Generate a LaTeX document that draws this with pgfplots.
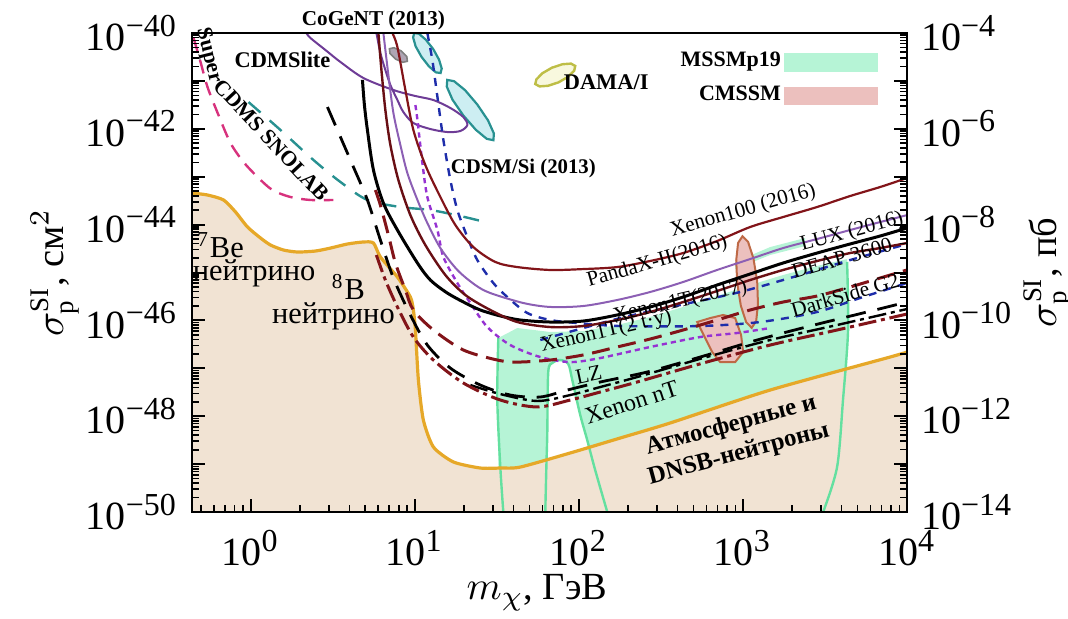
\documentclass[border=0pt]{standalone}
\usepackage{fontspec}
\setmainfont{Liberation Serif}
\usepackage{pgfplots}
\pgfplotsset{compat=1.18}
\definecolor{beige}{RGB}{241,227,211}
\definecolor{floor}{RGB}{230,168,40}
\definecolor{mint}{RGB}{182,244,214}
\definecolor{mintline}{RGB}{100,224,160}
\definecolor{pinkf}{RGB}{236,192,190}
\definecolor{pinkl}{RGB}{190,105,70}
\definecolor{darkred}{RGB}{130,20,25}
\definecolor{xred}{RGB}{105,15,20}
\definecolor{pandax}{RGB}{140,95,180}
\definecolor{cdmsl}{RGB}{110,60,150}
\definecolor{teal2}{RGB}{40,145,145}
\definecolor{tealf}{RGB}{205,238,242}
\definecolor{magen}{RGB}{215,50,125}
\definecolor{blue2}{RGB}{30,45,170}
\definecolor{violet2}{RGB}{150,50,210}
\definecolor{dama}{RGB}{190,190,70}
\definecolor{damaf}{RGB}{248,248,222}
\definecolor{grayf}{RGB}{175,165,180}
\newcommand{\tp}[1]{10\textsuperscript{\fontsize{8}{8}\selectfont #1}}
\tikzset{lab/.style={font=\fontsize{5.3}{6}\selectfont, inner sep=0pt},
         blab/.style={font=\bfseries\fontsize{5.2}{6}\selectfont, inner sep=0pt}}
\pgfplotsset{
  ticksty/.style={
    axis on top,
    tick align=inside,
    major tick length=3.2pt, minor tick length=1.8pt,
    every tick/.append style={black, line width=0.5pt},
    every minor tick/.append style={black, line width=0.4pt},
  }
}
\begin{document}
\begin{tikzpicture}
\useasboundingbox (-48pt,-26.75pt) rectangle (219pt,128pt);
\begin{axis}[
  scale only axis, width=178.75pt, height=119.75pt,
  xmode=log, ymode=log,
  xmin=0.44, xmax=1e4, ymin=1e-50, ymax=1e-40,
  clip mode=individual,
  axis line style={line width=0.7pt},
  ticksty, xtick pos=left, ytick pos=left,
  xtick={1,10,100,1000,10000},
  minor xtick={0.5,0.6,0.7,0.8,0.9,2,3,4,5,6,7,8,9,20,30,40,50,60,70,80,90,200,300,400,500,600,700,800,900,2000,3000,4000,5000,6000,7000,8000,9000},
  xticklabels={\tp{0},\tp{1},\tp{2},\tp{3},\tp{4}},
  ytick={1e-50,1e-49,1e-48,1e-47,1e-46,1e-45,1e-44,1e-43,1e-42,1e-41,1e-40},
  minor ytick={2e-50,3e-50,4e-50,5e-50,6e-50,7e-50,8e-50,9e-50,
    2e-49,3e-49,4e-49,5e-49,6e-49,7e-49,8e-49,9e-49,
    2e-48,3e-48,4e-48,5e-48,6e-48,7e-48,8e-48,9e-48,
    2e-47,3e-47,4e-47,5e-47,6e-47,7e-47,8e-47,9e-47,
    2e-46,3e-46,4e-46,5e-46,6e-46,7e-46,8e-46,9e-46,
    2e-45,3e-45,4e-45,5e-45,6e-45,7e-45,8e-45,9e-45,
    2e-44,3e-44,4e-44,5e-44,6e-44,7e-44,8e-44,9e-44,
    2e-43,3e-43,4e-43,5e-43,6e-43,7e-43,8e-43,9e-43,
    2e-42,3e-42,4e-42,5e-42,6e-42,7e-42,8e-42,9e-42,
    2e-41,3e-41,4e-41,5e-41,6e-41,7e-41,8e-41,9e-41},
  yticklabels={\tp{−50},,\tp{−48},,\tp{−46},,\tp{−44},,\tp{−42},,\tp{−40}},
  ticklabel style={font=\fontsize{10}{12}\selectfont},
  xticklabel shift=1pt,
  xlabel={$m_\chi$, ГэВ},
  ylabel={$\sigma_{\mathrm p}^{\mathrm{SI}}$, см$^2$},
  every axis x label/.style={at={(axis description cs:0.4825,-0.169)}, anchor=center, font=\fontsize{9.6}{11}\selectfont},
  every axis y label/.style={at={(axis description cs:-0.192,0.5)}, rotate=90, anchor=center, font=\fontsize{9.6}{11}\selectfont},
  legend style={at={(0.977,0.985)}, anchor=north east, draw=none, fill=none, font=\bfseries\fontsize{5.5}{6.5}\selectfont, row sep=1.6pt, nodes={inner sep=0.8pt}},
  legend plot pos=right, legend cell align=right,
]
% neutrino floor fill
\addplot[fill=beige, draw=none, forget plot] coordinates {
(0.44,4.57e-44) (0.547,4.15e-44) (0.685,3.27e-44) (0.811,1.83e-44) (0.959,8.91e-45) (1.151,5.25e-45) (1.324,3.75e-45) (1.588,2.95e-45) (1.932,2.68e-45) (2.488,2.81e-45) (3.070,3.24e-45) (3.897,3.94e-45) (4.875,4.34e-45) (5.610,4.13e-45) (6.185,2.11e-45) (7.853,8.05e-46) (9.420,3.08e-46) (9.825,1.65e-46) (10.11,6.31e-47) (10.54,5.70e-48) (11.30,8.33e-49) (13.01,2.28e-49) (17.22,1.11e-49) (25.13,8.29e-50) (33.27,8.29e-50) (44.07,8.69e-50) (88.78,1.71e-49) (179.0,3.51e-49) (360.6,7.22e-49) (1466,3.52e-48) (7889,1.72e-47) (10000,2.19e-47) (10000,1e-50) (0.44,1e-50)} -- cycle;
% MSSMp19 region
\addplot[fill=mint, draw=none, forget plot] coordinates {
(32.35,4.30e-47) (42.23,6.94e-47) (67.12,5.73e-47) (106.5,6.01e-47) (171.5,8.02e-47) (272.3,1.18e-46) (432.5,1.91e-46) (696.6,3.23e-46) (1107,5.48e-46) (1758,8.87e-46) (2831,1.37e-45) (4315,1.91e-45) (4315,9.66e-48) (1466,3.52e-48) (360.6,7.22e-49) (179.0,3.51e-49) (88.78,1.71e-49) (44.07,8.69e-50) (32.35,8.29e-50)} -- cycle;
\addplot[fill=mint, draw=none, forget plot] coordinates {
(897.5,1.66e-45) (1466,3.40e-45) (2393,5.25e-45) (2393,3.57e-45) (1466,2.32e-45) (897.5,1.18e-45)} -- cycle;
\addplot[fill=white, draw=none, forget plot] coordinates {
(65.18,8.37e-48) (69.0,1.29e-47) (77.11,1.49e-47) (86.3,1.23e-47) (91.3,5.70e-48) (102.1,1.06e-48) (112.6,3.18e-49) (117.5,2.17e-49) (88.78,1.71e-49) (65.18,1.33e-49)} -- cycle;
% MSSMp19 outlines
\addplot[mintline, line width=0.6pt, smooth, forget plot] coordinates {(32.35,4.30e-47) (31.90,2.18e-48) (33.27,8.69e-50) (34.70,1e-50)};
\addplot[mintline, line width=0.6pt, smooth, tension=0.5, forget plot] coordinates {(62.52,1e-50) (63.4,7.53e-50) (64.3,4.46e-49) (65.18,8.37e-48) (69.0,1.29e-47) (77.11,1.49e-47) (86.3,1.23e-47) (91.3,5.70e-48) (102.1,1.06e-48) (112.6,3.18e-49) (125.9,7.53e-50) (149.2,1e-50)};
\addplot[mintline, line width=0.6pt, smooth, forget plot] coordinates {(4315,1.66e-45) (4375,6.31e-47) (4074,2.18e-48) (3750,8.69e-50) (3083,1e-50)};
% CMSSM regions
\addplot[fill=pinkf, draw=pinkl, line width=0.5pt, forget plot] coordinates {
(1132,7.00e-47) (1047,9.22e-47) (972,2.02e-46) (923,6.04e-46) (911,1.82e-45) (935,4.15e-45) (995,5.73e-45) (1076,4.36e-45) (1159,1.99e-45) (1222,6.65e-46) (1236,2.20e-46) (1205,9.66e-47)} -- cycle;
\addplot[fill=pinkf, draw=pinkl, line width=0.5pt, forget plot] coordinates {
(526.5,9.26e-47) (632.4,1.12e-46) (758.6,1.30e-46) (897.5,1.12e-46) (975,4.96e-47) (1004,2.19e-47) (897.5,1.35e-47) (727.8,1.35e-47) (650.2,2.19e-47) (589.0,4.30e-47)} -- cycle;
% neutrino floor line
\addplot[floor, line width=0.8pt, smooth, tension=0.4, forget plot] coordinates {
(0.44,4.57e-44) (0.547,4.15e-44) (0.685,3.27e-44) (0.811,1.83e-44) (0.959,8.91e-45) (1.151,5.25e-45) (1.324,3.75e-45) (1.588,2.95e-45) (1.932,2.68e-45) (2.488,2.81e-45) (3.070,3.24e-45) (3.897,3.94e-45) (4.875,4.34e-45) (5.610,4.13e-45) (6.185,2.11e-45) (7.853,8.05e-46) (9.420,3.08e-46) (9.825,1.65e-46) (10.11,6.31e-47) (10.54,5.70e-48) (11.30,8.33e-49) (13.01,2.28e-49) (17.22,1.11e-49) (25.13,8.29e-50) (33.27,8.29e-50) (44.07,8.69e-50) (88.78,1.71e-49) (179.0,3.51e-49) (360.6,7.22e-49) (1466,3.52e-48) (7889,1.72e-47) (10000,2.19e-47)};
% upper-left contours
\addplot[fill=tealf, draw=teal2, line width=0.55pt, forget plot] coordinates {
(14.39,1.46e-41) (13.46,1.51e-41) (12.21,2.02e-41) (11.02,3.17e-41) (10.14,5.27e-41) (9.79,8.05e-41) (9.94,1e-40) (10.62,9.67e-41) (11.70,7.25e-41) (13.0,4.59e-41) (14.09,2.77e-41) (14.62,1.82e-41)} -- cycle;
\addplot[fill=tealf, draw=teal2, line width=0.55pt, forget plot] coordinates {
(30.2,5.78e-43) (27.5,6.18e-43) (23.6,9.53e-43) (19.8,1.90e-42) (17.0,4.07e-42) (15.7,7.60e-42) (15.8,1.05e-41) (17.4,9.86e-42) (20.3,6.40e-42) (24.1,3.21e-42) (28.0,1.50e-42) (30.4,8.02e-43)} -- cycle;
\addplot[fill=grayf, draw=gray, line width=0.4pt, forget plot] coordinates {
(9.03,2.57e-41) (8.47,2.45e-41) (7.66,2.85e-41) (7.08,3.73e-41) (7.02,4.70e-41) (7.48,4.93e-41) (8.29,4.23e-41) (8.96,3.23e-41)} -- cycle;
\addplot[fill=damaf, draw=dama, line width=0.6pt, forget plot] coordinates {
(95.2,2.05e-41) (93.8,1.63e-41) (86.1,1.22e-41) (75.4,9.35e-42) (65.0,7.91e-42) (57.7,7.68e-42) (54.3,8.61e-42) (55.2,1.08e-41) (60.1,1.45e-41) (68.7,1.89e-41) (79.6,2.23e-41) (89.7,2.30e-41)} -- cycle;
\addplot[cdmsl, line width=0.5pt, smooth, forget plot] coordinates {
(2.19,1e-40) (2.318,7.87e-41) (2.86,4.42e-41) (3.532,2.48e-41) (4.875,1.15e-41) (7.425,6.46e-42) (10.11,4.84e-42) (13.01,3.99e-42) (16.51,2.72e-42) (19.82,1.76e-42) (20.95,1.20e-42) (19.00,9.00e-43) (15.82,8.57e-43) (12.47,9.90e-43) (9.825,1.32e-42) (8.54,2.24e-42) (7.853,3.99e-42) (7.118,8.21e-42) (6.632,1.69e-41) (6.185,3.82e-41) (5.930,7.87e-41) (5.848,1e-40)};
\addplot[teal2, line width=0.6pt, dash pattern=on 4pt off 3pt, smooth, forget plot] coordinates {
(0.972,3.62e-42) (1.523,9.44e-43) (2.420,2.23e-43) (3.532,7.75e-44) (5.155,3.27e-44) (8.187,2.33e-44) (12.47,2.02e-44) (19.00,1.51e-44) (26.96,1.13e-44)};
\addplot[magen, line width=0.6pt, dash pattern=on 3.5pt off 2.2pt, smooth, forget plot] coordinates {
(0.450,7.87e-41) (0.496,2.48e-41) (0.547,7.46e-42) (0.638,1.94e-42) (0.755,5.06e-43) (0.906,2.03e-43) (1.104,9.86e-44) (1.361,5.27e-44) (1.753,3.77e-44) (2.318,3.27e-44) (3.200,3.27e-44)};
% limits
\addplot[blue2, line width=0.6pt, dash pattern=on 2pt off 1.8pt, smooth, forget plot] coordinates {
(11.95,1e-40) (12.82,2.73e-41) (13.77,4.61e-42) (14.97,5.84e-43) (16.51,8.53e-44) (18.21,2.02e-44) (20.95,5.51e-45) (24.09,1.82e-45) (30.16,6.04e-46) (36.71,3.08e-46) (48.55,1.43e-46) (67.12,1.02e-46) (97.94,8.83e-47) (179.0,7.64e-47) (549.5,7.64e-47) (1274,9.26e-47) (2831,1.50e-46) (5176,2.94e-46) (10000,6.04e-46)};
\addplot[blue2, line width=0.6pt, dash pattern=on 2pt off 1.8pt, smooth, forget plot] coordinates {
(58.31,3.90e-47) (179.0,1.12e-46) (415.0,2.10e-46) (961.6,3.92e-46) (2234,8.87e-46) (4498,1.82e-45) (10000,3.94e-45)};
\addplot[violet2, line width=0.6pt, dash pattern=on 1.3pt off 1pt, smooth, forget plot] coordinates {
(10.11,3.14e-42) (10.40,1.53e-42) (11.15,1.93e-43) (11.95,3.77e-44) (13.77,7.71e-45) (14.97,2.11e-45) (18.21,6.04e-46) (21.85,2.31e-46) (27.73,7.28e-47) (38.28,3.06e-47) (58.31,1.72e-47) (88.78,1.35e-47) (135.2,1.64e-47) (272.3,2.79e-47) (549.5,4.50e-47) (922.6,5.46e-47) (1466,6.94e-47)};
\addplot[darkred, line width=0.55pt, smooth, forget plot] coordinates {
(7.320,1e-40) (7.853,5.10e-41) (8.783,6.46e-42) (9.825,9.44e-43) (11.62,1.75e-43) (14.35,3.77e-44) (17.71,9.81e-45) (22.79,3.40e-45) (31.02,1.66e-45) (42.23,1.30e-45) (67.12,1.13e-45) (106.5,1.18e-45) (171.5,1.30e-45) (272.3,1.74e-45) (432.5,2.55e-45) (696.6,4.55e-45) (1107,8.91e-45) (1758,1.44e-44) (2831,2.33e-44) (4498,3.95e-44) (6855,6.09e-44) (10000,9.40e-44)};
\addplot[pandax, line width=0.5pt, smooth, forget plot] coordinates {
(6.451,1e-40) (6.919,1.33e-41) (7.425,2.14e-42) (8.187,4.59e-43) (9.033,1.19e-43) (10.40,3.27e-44) (11.95,1.08e-44) (14.35,3.24e-45) (18.21,1.13e-45) (23.42,5.48e-46) (28.92,3.73e-46) (45.95,2.31e-46) (67.12,1.91e-46) (106.5,2.00e-46) (171.5,2.67e-46) (272.3,3.92e-46) (432.5,6.34e-46) (696.6,1.13e-45) (1107,1.91e-45) (1758,3.24e-45) (2831,5.00e-45) (4498,7.71e-45) (6855,1.13e-44) (10000,1.58e-44)};
\addplot[black, line width=0.75pt, smooth, forget plot] coordinates {
(4.808,1.05e-41) (4.943,3.14e-42) (5.155,9.44e-43) (5.610,1.38e-43) (6.451,2.82e-44) (7.853,7.71e-45) (10.40,1.58e-45) (12.47,6.97e-46) (15.82,3.73e-46) (20.37,2.31e-46) (25.13,1.65e-46) (33.27,1.24e-46) (44.07,1.02e-46) (67.12,9.26e-47) (106.5,9.71e-47) (171.5,1.30e-46) (272.3,1.91e-46) (432.5,3.08e-46) (696.6,5.48e-46) (1107,9.31e-46) (1758,1.58e-45) (2831,2.55e-45) (4498,3.94e-45) (6855,5.78e-45) (10000,8.49e-45)};
\addplot[xred, line width=0.6pt, smooth, forget plot] coordinates {
(6.013,1e-40) (6.276,1.69e-41) (6.632,2.47e-42) (7.118,4.59e-43) (7.961,8.53e-44) (9.420,1.58e-44) (11.62,3.75e-45) (15.39,8.87e-46) (20.37,3.39e-46) (28.92,1.65e-46) (42.23,9.26e-47) (67.12,7.28e-47) (106.5,7.64e-47) (171.5,1.02e-46) (272.3,1.50e-46) (432.5,2.42e-46) (696.6,4.11e-46) (1107,6.97e-46) (1758,1.13e-45) (2831,1.74e-45) (4498,2.55e-45) (6855,3.24e-45) (10000,4.13e-45)};
\addplot[darkred, line width=0.75pt, dash pattern=on 4.5pt off 2.2pt, smooth, forget plot] coordinates {
(5.767,5.27e-44) (6.185,2.56e-44) (6.919,6.07e-45) (7.636,1.58e-45) (8.783,4.31e-46) (9.825,1.65e-46) (13.01,6.31e-47) (19.82,2.41e-47) (31.90,1.49e-47) (42.23,1.35e-47) (67.12,1.49e-47) (106.5,1.90e-47) (171.5,2.79e-47) (272.3,4.09e-47) (432.5,6.31e-47) (696.6,1.02e-46) (1107,1.65e-46) (1758,2.42e-46) (2831,3.23e-46) (4498,4.98e-46) (6855,7.67e-46) (10000,1.13e-45)};
\addplot[black, line width=0.7pt, dash pattern=on 5pt off 3pt, smooth, forget plot] coordinates {
(2.943,2.85e-42) (3.532,6.74e-43) (4.236,1.60e-43) (5.155,3.27e-44) (6.185,4.76e-45) (7.425,7.67e-46) (9.420,1.30e-46) (11.95,3.06e-47) (16.51,1.01e-47) (25.13,4.48e-48) (38.28,2.77e-48) (58.31,2.52e-48) (85.15,3.52e-48) (135.2,5.18e-48) (261.0,8.37e-48) (549.5,1.72e-47) (1222,3.90e-47) (2566,7.64e-47) (5395,1.43e-46) (10000,2.42e-46)};
\addplot[black, line width=0.6pt, dash pattern=on 4.5pt off 1.2pt on 1pt off 1.2pt, smooth, forget plot] coordinates {
(21.85,4.48e-48) (33.27,2.90e-48) (55.87,2.08e-48) (88.78,2.77e-48) (135.2,4.07e-48) (227.1,6.58e-48) (572.8,1.64e-47) (1466,3.90e-47) (3750,8.02e-47) (10000,1.73e-46)};
\addplot[darkred, line width=0.75pt, dash pattern=on 4.5pt off 1.2pt on 1pt off 1.2pt, smooth, forget plot] coordinates {
(5.848,2.32e-45) (6.632,6.97e-46) (7.853,1.91e-46) (9.825,4.50e-47) (13.01,1.49e-47) (19.82,4.93e-48) (33.27,2.18e-48) (55.87,1.56e-48) (88.78,2.18e-48) (135.2,3.20e-48) (227.1,5.18e-48) (572.8,1.29e-47) (1466,3.06e-47) (3750,6.31e-47) (10000,1.36e-46)};
% labels
\node[blab, anchor=center, font=\bfseries\fontsize{5.3}{6}\selectfont] at (axis cs:5.61,1.87e-40) {CoGeNT (2013)};
\node[blab, font=\bfseries\fontsize{5.6}{6}\selectfont] at (axis cs:1.566,2.73e-41) {CDMSlite};
\node[blab, rotate=-76, font=\bfseries\fontsize{5.4}{6}\selectfont] at (axis cs:0.555,3.4e-41) {Super};
\node[blab, rotate=-47, font=\bfseries\fontsize{5.4}{6}\selectfont] at (axis cs:1.342,5.84e-43) {CDMS SNOLAB};
\node[blab, font=\bfseries\fontsize{5.6}{6}\selectfont] at (axis cs:146.9,9.48e-42) {DAMA/I};
\node[blab] at (axis cs:45.95,1.52e-43) {CDSM/Si (2013)};
\node[anchor=west, inner sep=0pt, font=\fontsize{7.6}{8}\selectfont] at (axis cs:0.469,3.75e-45) {\textsuperscript{7}Be};
\node[anchor=west, inner sep=0pt, font=\fontsize{7.6}{8}\selectfont] at (axis cs:0.44,9.77e-46) {нейтрино};
\node[inner sep=0pt, font=\fontsize{7.6}{8}\selectfont] at (axis cs:3.95,4.98e-46) {\textsuperscript{8}B};
\node[inner sep=0pt, font=\fontsize{7.6}{8}\selectfont] at (axis cs:3.2,1.24e-46) {нейтрино};
\node[inner sep=0pt, rotate=15, align=center, font=\bfseries\fontsize{6.2}{7.4}\selectfont] at (axis cs:895.8,3.18e-49) {Атмосферные и\\DNSB-нейтроны};
\node[lab, rotate=18, font=\fontsize{6}{7}\selectfont] at (axis cs:210,1.95e-48) {Xenon nT};
\node[lab, rotate=12, font=\fontsize{5.4}{7}\selectfont] at (axis cs:115,7.4e-48) {LZ};
\node[lab, rotate=13] at (axis cs:146.9,5.73e-47) {Xenon1T(2 t·y)};
\node[lab, rotate=13] at (axis cs:415.0,2.42e-46) {Xenon1T(2017)};
\node[lab, rotate=16] at (axis cs:300.6,1.66e-45) {PandaX-II(2016)};
\node[lab, rotate=16] at (axis cs:1004,1.92e-44) {Xenon100 (2016)};
\node[lab, rotate=15] at (axis cs:4624,7.01e-45) {LUX (2016)};
\node[lab, rotate=16] at (axis cs:4018,2.01e-45) {DEAP 3600};
\node[lab, rotate=16] at (axis cs:4198,3.39e-46) {DarkSide G2};
% legend
\addlegendimage{legend image code/.code={\fill[mint] (0pt,-2.1pt) rectangle (23pt,2.1pt);}}
\addlegendentry{MSSMp19}
\addlegendimage{legend image code/.code={\fill[pinkf] (0pt,-2.1pt) rectangle (23pt,2.1pt);}}
\addlegendentry{CMSSM}
\end{axis}
\begin{axis}[
  scale only axis, width=178.75pt, height=119.75pt,
  xmode=log, ymode=log,
  xmin=0.44, xmax=1e4, ymin=1e-14, ymax=1e-4,
  axis y line*=right, axis x line=none,
  axis line style={line width=0.7pt},
  ticksty,
  ytick={1e-14,1e-13,1e-12,1e-11,1e-10,1e-9,1e-8,1e-7,1e-6,1e-5,1e-4},
  minor ytick={2e-14,3e-14,4e-14,5e-14,6e-14,7e-14,8e-14,9e-14,
    2e-13,3e-13,4e-13,5e-13,6e-13,7e-13,8e-13,9e-13,
    2e-12,3e-12,4e-12,5e-12,6e-12,7e-12,8e-12,9e-12,
    2e-11,3e-11,4e-11,5e-11,6e-11,7e-11,8e-11,9e-11,
    2e-10,3e-10,4e-10,5e-10,6e-10,7e-10,8e-10,9e-10,
    2e-9,3e-9,4e-9,5e-9,6e-9,7e-9,8e-9,9e-9,
    2e-8,3e-8,4e-8,5e-8,6e-8,7e-8,8e-8,9e-8,
    2e-7,3e-7,4e-7,5e-7,6e-7,7e-7,8e-7,9e-7,
    2e-6,3e-6,4e-6,5e-6,6e-6,7e-6,8e-6,9e-6,
    2e-5,3e-5,4e-5,5e-5,6e-5,7e-5,8e-5,9e-5},
  yticklabels={\tp{−14},,\tp{−12},,\tp{−10},,\tp{−8},,\tp{−6},,\tp{−4}},
  ticklabel style={font=\fontsize{10}{12}\selectfont},
  ylabel={$\sigma_{\mathrm p}^{\mathrm{SI}}$, пб},
  every axis y label/.style={at={(axis description cs:1.197,0.5)}, rotate=90, anchor=center, font=\fontsize{9.6}{11}\selectfont},
]
\addplot[draw=none, forget plot] coordinates {(1,1e-10) (10,1e-9)};
\end{axis}
\end{tikzpicture}
\end{document}
